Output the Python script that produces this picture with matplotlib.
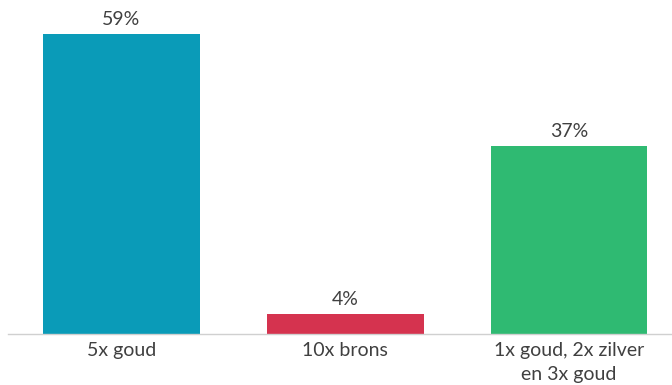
import matplotlib
matplotlib.use("Agg")
import matplotlib.pyplot as plt

categories = ["5x goud", "10x brons", "1x goud, 2x zilver\nen 3x goud"]
values = [59, 4, 37]
labels = ["59%", "4%", "37%"]
colors = ["#0a9bb8", "#d5334f", "#2fba72"]

plt.rcParams['font.family'] = ['Lato', 'DejaVu Sans']

fig = plt.figure(figsize=(6.72, 3.85), dpi=100)
ax = fig.add_axes([8/672, 51/385, 664/672, 334/385])
x = range(len(values))
bars = ax.bar(x, values, width=0.7, color=colors, zorder=2)
for xi, v, lab in zip(x, values, labels):
    ax.text(xi, v + 1.2, lab, ha="center", va="bottom", fontsize=14, color="#404040")
ax.set_xlim(-0.507, 2.46)
ax.set_ylim(0, 65.7)
ax.set_xticks(list(x))
ax.set_xticklabels(categories, fontsize=14, color="#404040", linespacing=1.45)
ax.tick_params(axis="x", length=0, pad=6)
ax.set_yticks([])
for s in ["top", "right", "left"]:
    ax.spines[s].set_visible(False)
ax.spines["bottom"].set_color("#d0d0d0")
ax.spines["bottom"].set_linewidth(1.0)
fig.savefig("out.png", dpi=100)
